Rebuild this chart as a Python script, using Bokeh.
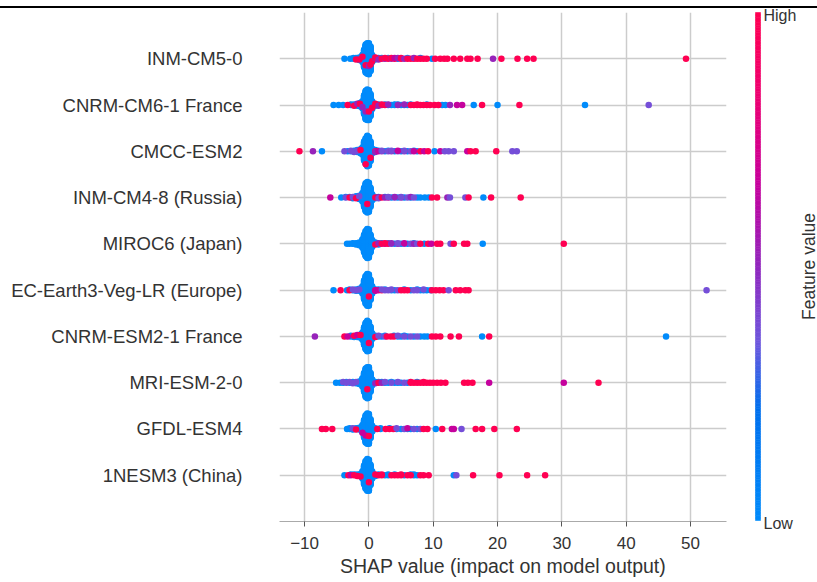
import re
import numpy as np
from bokeh.plotting import figure
from bokeh.models import FixedTicker, Range1d, Div
from bokeh.layouts import column, row
from bokeh.core.properties import value
from bokeh.embed import file_html
from bokeh.resources import INLINE

# ---------------- data ----------------
FEATURES = ["INM-CM5-0", "CNRM-CM6-1 France", "CMCC-ESM2", "INM-CM4-8 (Russia)",
            "MIROC6 (Japan)", "EC-Earth3-Veg-LR (Europe)", "CNRM-ESM2-1 France",
            "MRI-ESM-2-0", "GFDL-ESM4", "1NESM3 (China)"]
X_TICKS = [-10, 0, 10, 20, 30, 40, 50]
X_TICK_LABELS = ["\u221210", "0", "10", "20", "30", "40", "50"]
# feature-value level of each colour code (b=low ... r=high)
LEVEL = {"b": 0.0, "v": 0.38, "p": 0.52, "m": 0.66, "r": 1.0}

# (SHAP value, points stacked at that value: colour codes, letter+count)
INM_CM5_0 = [(-3.8, "b"), (-2.9, "b"), (-2.4, "bb"), (-2.0, "bbr"), (-1.5, "bbrbb"),
             (-1.0, "b5r1b6"), (-0.75, "b28"), (-0.5, "b20r1b23"), (-0.25, "b48"),
             (0.0, "b22p1b26"), (0.25, "b18r1b20"), (0.5, "b8r1b3"), (1.0, "bpbr"),
             (1.5, "rbp"), (2.0, "rb"), (2.5, "pr"), (3.0, "rb"), (3.5, "pr"), (4.0, "rm"),
             (4.5, "bp"), (5.0, "rr"), (5.5, "p"), (6.0, "rb"), (6.5, "r"), (7.0, "rp"),
             (7.5, "r"), (8.0, "rb"), (8.5, "r"), (9.0, "r"), (9.8, "b"), (10.3, "r"),
             (11.1, "r"), (11.7, "r"), (12.2, "r"), (13.2, "r"), (14.2, "r"), (15.3, "r"),
             (15.8, "r"), (16.9, "r"), (19.3, "p"), (20.6, "r"), (23.1, "r"), (24.6, "r"),
             (25.6, "r"), (49.3, "r")]
CNRM_CM6_1 = [(-5.5, "b"), (-4.7, "b"), (-4.0, "b"), (-3.3, "r"), (-2.8, "bb"), (-2.3, "bbr"),
              (-1.8, "bbbp"), (-1.4, "b3r1b2"), (-1.0, "b6p1b5"), (-0.75, "b30"),
              (-0.5, "b20p1b24"), (-0.25, "b48"), (0.0, "b20r1b26"), (0.25, "b35"),
              (0.5, "b8r1b4"), (1.0, "rbbr"), (1.5, "rbp"), (2.0, "pr"), (2.5, "rb"),
              (3.0, "bp"), (3.5, "b"), (4.0, "bb"), (4.5, "pb"), (5.0, "b"), (5.5, "bp"),
              (6.0, "b"), (6.5, "rb"), (7.0, "r"), (7.5, "rr"), (8.0, "r"), (8.5, "r"),
              (9.0, "rb"), (9.5, "r"), (10.2, "r"), (10.8, "r"), (11.4, "b"), (11.9, "b"),
              (12.6, "p"), (13.7, "m"), (14.5, "m"), (16.3, "b"), (17.6, "r"), (20.0, "b"),
              (23.4, "r"), (33.6, "b"), (43.5, "v")]
CMCC_ESM2 = [(-10.8, "r"), (-8.7, "p"), (-7.3, "b"), (-3.8, "v"), (-3.3, "b"), (-2.8, "bv"),
             (-2.3, "bbv"), (-1.8, "bvbb"), (-1.3, "b3r1b3"), (-1.0, "b12"), (-0.75, "b30"),
             (-0.5, "b40r1"), (-0.25, "b48"), (0.0, "b45"), (0.25, "b20r1b10"), (0.5, "b8"),
             (1.0, "rbpb"), (1.5, "mb"), (2.0, "pv"), (2.5, "b"), (3.0, "vb"), (3.5, "pv"),
             (4.0, "b"), (4.5, "vm"), (5.0, "b"), (5.5, "pv"), (6.0, "b"), (6.5, "v"),
             (7.0, "mb"), (7.5, "b"), (8.0, "r"), (8.6, "m"), (9.2, "r"), (10.2, "b"),
             (11.1, "m"), (11.8, "v"), (12.4, "v"), (13.2, "v"), (15.3, "m"), (15.8, "r"),
             (16.6, "r"), (19.8, "r"), (22.3, "v"), (23.0, "v")]
INM_CM4_8 = [(-6.0, "m"), (-4.3, "b"), (-3.6, "vb"), (-3.0, "rb"), (-2.5, "bvb"), (-2.0, "bbrb"),
             (-1.5, "b3v1b2"), (-1.0, "b14"), (-0.75, "b30"), (-0.5, "b44"),
             (-0.25, "b20r1b27"), (0.0, "b46"), (0.25, "b30"), (0.5, "b10"), (1.0, "rbb"),
             (1.5, "mbv"), (2.0, "r"), (2.5, "pb"), (3.0, "mv"), (3.5, "b"), (4.0, "vp"),
             (4.5, "b"), (5.0, "pv"), (5.5, "b"), (6.0, "v"), (6.5, "bp"), (7.0, "v"),
             (7.5, "b"), (8.0, "b"), (8.7, "b"), (9.3, "b"), (9.8, "r"), (10.6, "r"),
             (12.2, "p"), (12.6, "v"), (15.0, "v"), (15.5, "r"), (17.8, "b"), (19.0, "r"),
             (23.6, "r")]
MIROC6 = [(-3.4, "b"), (-3.0, "b"), (-2.5, "bb"), (-2.0, "bbb"), (-1.5, "b5"), (-1.0, "b14"),
          (-0.75, "b28"), (-0.5, "b40"), (-0.25, "b46"), (0.0, "b44"), (0.25, "b28"),
          (0.5, "b12"), (1.0, "bbrb"), (1.5, "bpb"), (2.0, "rb"), (2.5, "mr"), (3.0, "rb"),
          (3.5, "vp"), (4.0, "b"), (4.5, "pv"), (5.0, "b"), (5.5, "vm"), (6.0, "b"),
          (6.5, "v"), (7.0, "pb"), (7.5, "v"), (8.0, "r"), (8.6, "b"), (9.2, "r"), (9.7, "m"),
          (10.6, "r"), (11.1, "r"), (12.7, "v"), (13.2, "r"), (14.8, "r"), (15.3, "r"),
          (17.7, "b"), (30.3, "r")]
EC_EARTH3 = [(-5.5, "b"), (-4.4, "r"), (-3.4, "b"), (-3.0, "rb"), (-2.5, "bv"), (-2.0, "vbb"),
             (-1.5, "bvbb"), (-1.0, "b12"), (-0.75, "b30"), (-0.5, "b44"), (-0.25, "b50"),
             (0.0, "b20r1b28"), (0.25, "b32"), (0.5, "b12"), (1.0, "rbm"), (1.5, "mb"),
             (2.0, "rv"), (2.5, "vb"), (3.0, "v"), (3.5, "bv"), (4.0, "b"), (4.5, "v"),
             (5.0, "r"), (5.5, "rb"), (6.0, "r"), (6.5, "b"), (7.0, "v"), (7.5, "vb"),
             (8.0, "b"), (8.5, "bv"), (9.0, "b"), (9.6, "b"), (9.8, "r"), (10.4, "r"),
             (11.0, "r"), (11.6, "r"), (12.4, "v"), (13.5, "r"), (14.2, "r"), (15.0, "r"),
             (15.5, "r"), (52.5, "v")]
CNRM_ESM2_1 = [(-8.4, "p"), (-3.8, "r"), (-3.3, "m"), (-2.8, "bb"), (-2.3, "brb"),
               (-1.8, "bbbm"), (-1.3, "b3r1b2"), (-1.0, "b12"), (-0.75, "b28"), (-0.5, "b42"),
               (-0.25, "b48"), (0.0, "b20r1b24"), (0.25, "b30"), (0.5, "b10"), (1.0, "bbr"),
               (1.5, "bv"), (2.0, "b"), (2.5, "vb"), (2.8, "r"), (3.4, "r"), (3.9, "rb"),
               (4.5, "bv"), (5.0, "b"), (5.5, "vb"), (6.0, "b"), (6.5, "v"), (7.0, "b"),
               (7.5, "v"), (8.0, "b"), (8.6, "b"), (9.1, "b"), (9.8, "r"), (10.4, "r"),
               (11.1, "r"), (12.7, "r"), (14.0, "r"), (17.6, "b"), (18.7, "r"), (46.2, "b")]
MRI_ESM_2_0 = [(-5.1, "b"), (-4.5, "b"), (-4.0, "bv"), (-3.5, "vb"), (-3.0, "bv"), (-2.5, "bbv"),
               (-2.0, "bvb"), (-1.5, "b5"), (-1.0, "b14"), (-0.75, "b30"), (-0.5, "b45"),
               (-0.25, "b20r1b28"), (0.0, "b48"), (0.25, "b30"), (0.5, "b10"), (1.0, "bbp"),
               (1.5, "rb"), (2.0, "pb"), (2.5, "bv"), (3.0, "b"), (3.5, "vb"), (4.0, "b"),
               (4.5, "bv"), (5.0, "b"), (5.5, "v"), (6.0, "b"), (6.5, "rr"), (7.0, "r"),
               (7.5, "rb"), (8.0, "r"), (8.5, "rr"), (9.0, "r"), (9.5, "r"), (10.0, "r"),
               (10.6, "r"), (11.2, "r"), (11.9, "r"), (14.8, "r"), (15.4, "r"), (16.1, "r"),
               (18.7, "m"), (30.3, "m"), (35.7, "r")]
GFDL_ESM4 = [(-7.3, "r"), (-6.7, "r"), (-5.7, "r"), (-3.4, "b"), (-3.0, "bb"), (-2.5, "bvb"),
             (-2.0, "bbr"), (-1.5, "b4"), (-1.0, "b12m1"), (-0.75, "b28"), (-0.5, "b20m1b22"),
             (-0.25, "b48"), (0.0, "b22r1b24"), (0.25, "b30"), (0.5, "b10"), (1.0, "bb"),
             (1.3, "r"), (1.8, "bb"), (2.6, "r"), (3.2, "rb"), (3.8, "r"), (4.3, "bv"),
             (5.0, "b"), (5.5, "v"), (6.0, "bm"), (6.5, "b"), (7.0, "v"), (7.5, "b"),
             (8.0, "v"), (8.5, "r"), (9.1, "r"), (10.4, "b"), (11.4, "r"), (12.9, "m"),
             (13.2, "m"), (14.4, "v"), (16.6, "r"), (17.6, "r"), (19.5, "r"), (23.0, "r")]
NESM3 = [(-3.8, "b"), (-3.2, "r"), (-2.8, "mb"), (-2.3, "rb"), (-1.8, "bbr"), (-1.3, "b4r1"),
         (-1.0, "b12"), (-0.75, "b30"), (-0.5, "b44"), (-0.25, "b50"), (0.0, "b22r1b26"),
         (0.25, "b32"), (0.5, "b12"), (1.0, "brb"), (1.5, "rb"), (2.0, "rr"), (2.5, "b"),
         (3.0, "bb"), (3.5, "r"), (4.0, "rb"), (4.5, "r"), (5.0, "rr"), (5.5, "b"), (6.0, "r"),
         (6.5, "rb"), (7.0, "bb"), (7.5, "b"), (8.0, "r"), (8.5, "r"), (9.3, "r"), (13.2, "b"),
         (13.6, "v"), (16.2, "r"), (20.3, "r"), (24.6, "r"), (27.4, "r")]
ROWS = [INM_CM5_0, CNRM_CM6_1, CMCC_ESM2, INM_CM4_8, MIROC6, EC_EARTH3, CNRM_ESM2_1,
        MRI_ESM_2_0, GFDL_ESM4, NESM3]

# ---------------- colour map (SHAP red-blue) ----------------
ANCHORS = [(0.0, (0, 139, 251)), (0.22, (0, 112, 238)), (0.35, (110, 88, 222)),
           (0.5, (145, 40, 190)), (0.67, (200, 0, 155)), (0.85, (240, 0, 110)),
           (1.0, (255, 0, 82))]


def cmap(f):
    fs = [a[0] for a in ANCHORS]
    rgb = [np.interp(f, fs, [a[1][k] for a in ANCHORS]) for k in range(3)]
    return "#%02x%02x%02x" % tuple(int(round(c)) for c in rgb)


def parse(code):
    out = []
    for letter, n in re.findall(r"([a-z])(\d*)", code):
        out += [letter] * (int(n) if n else 1)
    return out


# ---------------- beeswarm layout ----------------
LAYER_STEP = 0.014
pts = []
n_rows = len(FEATURES)
for i, spec in enumerate(ROWS):
    base = n_rows - 1 - i
    for xv, code in spec:
        for k, letter in enumerate(parse(code)):
            off = np.ceil(k / 2) * ((k % 2) * 2 - 1)
            pts.append((letter != "b", xv, base + off * LAYER_STEP, cmap(LEVEL[letter])))
pts.sort(key=lambda t: t[0])
px = [t[1] for t in pts]
py = [t[2] for t in pts]
pc = [t[3] for t in pts]

FONT = "Liberation Sans"
TXT = "#333333"

p = figure(width=745, height=582, x_range=Range1d(-13.9, 55.6), y_range=Range1d(-1, 10),
           toolbar_location=None, output_backend="svg",
           min_border_left=279, min_border_right=19, min_border_top=12, min_border_bottom=61)
p.outline_line_color = None
p.background_fill_color = "white"

p.xgrid.ticker = FixedTicker(ticks=X_TICKS)
p.ygrid.ticker = FixedTicker(ticks=list(range(n_rows)))
for g in (p.xgrid, p.ygrid):
    g.grid_line_color = "#cccccc"
    g.grid_line_width = 1.5

p.scatter(px, py, size=6.5, fill_color=pc, line_color=None)

xa = p.xaxis[0]
xa.ticker = FixedTicker(ticks=X_TICKS)
xa.major_label_overrides = {t: s for t, s in zip(X_TICKS, X_TICK_LABELS)}
xa.axis_label = "SHAP value (impact on model output)"
xa.axis_label_text_font = FONT
xa.axis_label_text_font_size = "19.5px"
xa.axis_label_text_font_style = "normal"
xa.axis_label_text_color = TXT
xa.axis_label_standoff = 3
xa.major_label_text_font = FONT
xa.major_label_text_font_size = "17px"
xa.major_label_text_color = TXT
xa.major_label_standoff = 10
xa.axis_line_color = "#aaaaaa"
xa.major_tick_line_color = "#555555"
xa.major_tick_out = 5
xa.major_tick_in = 0
xa.minor_tick_line_color = None

ya = p.yaxis[0]
ya.ticker = FixedTicker(ticks=list(range(n_rows)))
ya.major_label_overrides = {n_rows - 1 - i: name for i, name in enumerate(FEATURES)}
ya.major_label_text_font = FONT
ya.major_label_text_font_size = "18.5px"
ya.major_label_text_color = TXT
ya.major_label_standoff = 37
ya.axis_line_color = None
ya.major_tick_line_color = None
ya.minor_tick_line_color = None
ya.major_tick_out = 0

# ---------------- colour bar panel (full height, page pixel coordinates) ----------------
cb = figure(width=72, height=582, toolbar_location=None, output_backend="svg",
            x_axis_type=None, y_axis_type=None, min_border=0, min_border_left=0,
            min_border_right=0, min_border_top=0, min_border_bottom=0)
if hasattr(cb, "frame_align"):
    cb.frame_align = False
    p.frame_align = False
cb.x_range = Range1d(745, 817)
cb.y_range = Range1d(582, 0)
cb.outline_line_color = None
cb.grid.visible = False
N = 200
edges = np.linspace(520, 12, N + 1)
fr = (np.arange(N) + 0.5) / N
cols = [cmap(f) for f in fr]
cb.quad(left=755, right=760, bottom=edges[:-1], top=edges[1:], fill_color=cols,
        line_color=cols, line_width=0.6)
cb.text(x=[763, 763], y=[15, 523], text=["High", "Low"],
        text_font=value(FONT), text_font_size="16px", text_color=TXT,
        text_baseline="middle", text_align="left")
cb.text(x=[808], y=[266], text=["Feature value"], angle=np.pi / 2, text_font=value(FONT),
        text_font_size="17.5px", text_color=TXT, text_baseline="middle", text_align="center")

# black rule across the top of the page (overlay, out of the layout flow)
rule = Div(text="", width=817, height=2, margin=0,
           styles={"position": "absolute", "top": "6px", "left": "0px",
                   "background-color": "#000000", "z-index": "10"})

layout = column(row(p, cb, spacing=0), rule, spacing=0)
open("out.html", "w").write(file_html(layout, INLINE))
